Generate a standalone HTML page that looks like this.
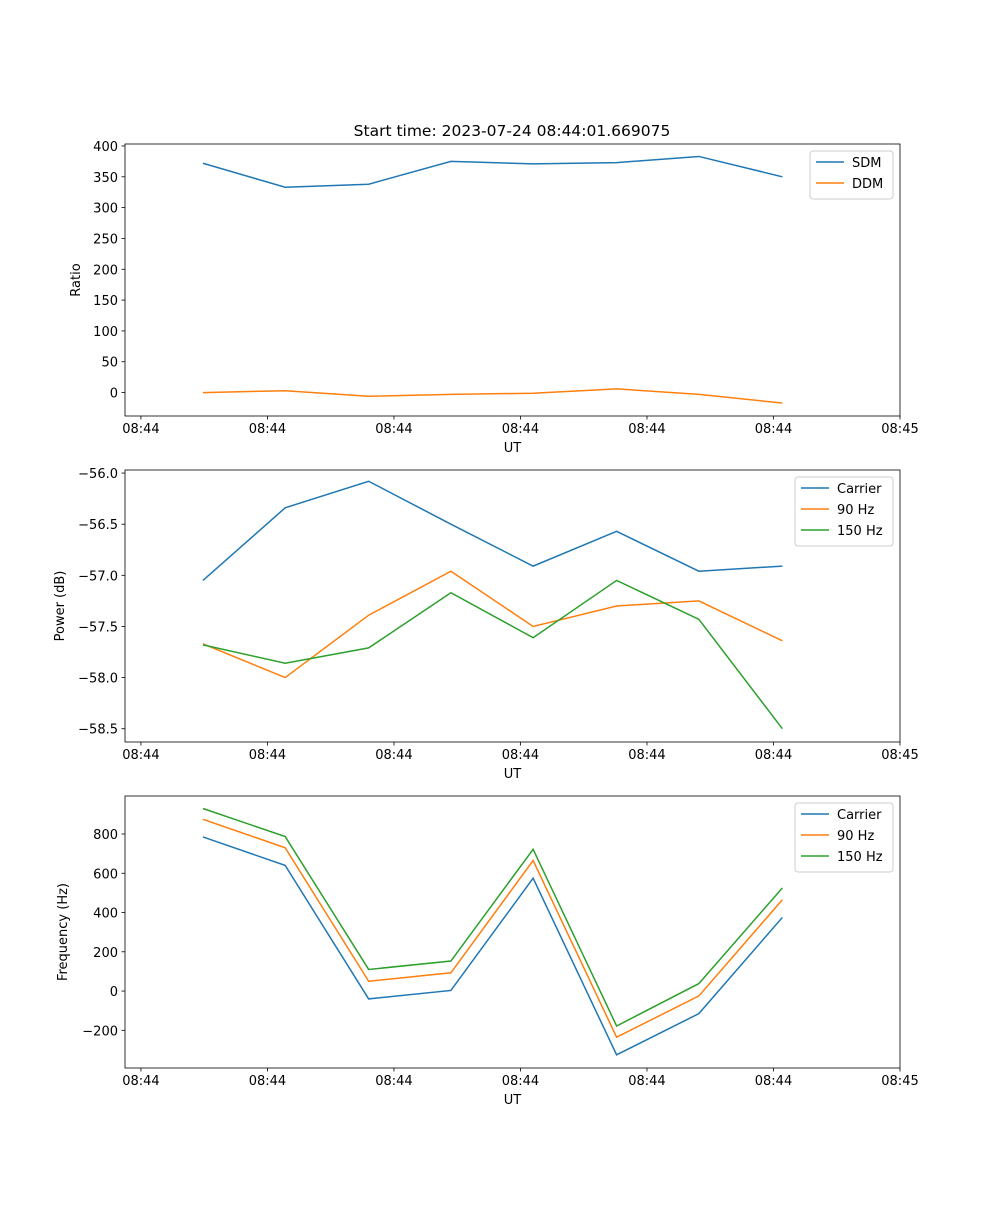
<!DOCTYPE html>
<html><head><meta charset="utf-8"><style>
body{margin:0;background:#fff}
svg text{font-family:"DejaVu Sans","Liberation Sans",sans-serif;font-size:13px;fill:#000}
</style></head><body>
<svg id="fig" width="1000" height="1200" xmlns="http://www.w3.org/2000/svg">
<rect width="1000" height="1200" fill="#fff"/>
<text x="512" y="136" text-anchor="middle" style="font-size:15.5px">Start time: 2023-07-24 08:44:01.669075</text>
</svg>
<script>
const times = [4.9, 11.4, 18.0, 24.5, 31.0, 37.6, 44.1, 50.7];
const xTickVals = [0, 10, 20, 30, 40, 50, 60];
const xTickLabels = ["08:44","08:44","08:44","08:44","08:44","08:44","08:45"];
const sdm = [372, 333, 338, 375, 371, 373, 383, 350];
const ddm = [0, 3, -6, -3, -1, 6, -3, -17];
const powCarrier = [-57.05, -56.34, -56.08, -56.50, -56.91, -56.57, -56.96, -56.91];
const pow90 = [-57.67, -58.00, -57.39, -56.96, -57.50, -57.30, -57.25, -57.64];
const pow150 = [-57.68, -57.86, -57.71, -57.17, -57.61, -57.05, -57.43, -58.50];
const freqCarrier = [785, 640, -40, 3, 575, -325, -115, 375];
const freq90 = [875, 730, 50, 93, 665, -235, -25, 465];
const freq150 = [930, 787, 110, 153, 722, -178, 38, 525];
const ratioTicks = [0,50,100,150,200,250,300,350,400];
const powTicks = [-56.0,-56.5,-57.0,-57.5,-58.0,-58.5];
const freqTicks = [-200,0,200,400,600,800];

const NS="http://www.w3.org/2000/svg";
const svg=document.getElementById('fig');
const L=125,R=900;
const xMin=-1.26,xMax=60;
const xs=v=>L+(v-xMin)/(xMax-xMin)*(R-L);
function mk(tag,attrs,parent){const e=document.createElementNS(NS,tag);for(const k in attrs)e.setAttribute(k,attrs[k]);(parent||svg).appendChild(e);return e;}

function panel(name,top,bot,yMin,yMax,yTicks,fmt,ylabel,ylabelX,series,legend){
  const g=mk('g',{});
  
  
  const ys=v=>bot-(v-yMin)/(yMax-yMin)*(bot-top);
  series.forEach(s=>{
    const p=mk('polyline',{points:times.map((t,i)=>xs(t)+','+ys(s.vals[i])).join(' '),fill:'none',stroke:s.color,'stroke-width':1.5},g);
    
    
  });
  const fr=mk('rect',{x:L,y:top,width:R-L,height:bot-top,fill:'none',stroke:'#000','stroke-width':0.8},g);
  
  
  xTickVals.forEach((v,i)=>{
    const x=xs(v);
    mk('line',{x1:x,x2:x,y1:bot,y2:bot+3.5,stroke:'#000','stroke-width':0.8},g);
    const t=mk('text',{x:x,y:bot+17,'text-anchor':'middle'},g);
    t.textContent=xTickLabels[i];
    
    
  });
  yTicks.forEach(v=>{
    const y=ys(v);
    mk('line',{x1:L-3.5,x2:L,y1:y,y2:y,stroke:'#000','stroke-width':0.8},g);
    const t=mk('text',{x:L-7,y:y+5,'text-anchor':'end'},g);
    t.textContent=fmt(v);
    
    
  });
  const xl=mk('text',{x:(L+R)/2,y:bot+36,'text-anchor':'middle'},g);
  xl.textContent='UT';
  
  
  const yc=(top+bot)/2;
  const yl=mk('text',{x:ylabelX,y:yc,'text-anchor':'middle',transform:'rotate(-90 '+ylabelX+' '+yc+')'},g);
  yl.textContent=ylabel;
  
  
  const lg=mk('g',{},g);
  
  
  const h=series.length*21+6;
  mk('rect',{x:legend.x,y:top+7,width:R-7-legend.x,height:h,rx:3,fill:'#fff','fill-opacity':0.8,stroke:'#ccc'},lg);
  series.forEach((s,i)=>{
    const y=top+18+i*21;
    mk('line',{x1:legend.x+6,x2:legend.x+34,y1:y,y2:y,stroke:s.color,'stroke-width':1.5},lg);
    const t=mk('text',{x:legend.x+42,y:y+5},lg);
    t.textContent=s.label;
    
    
  });
}
const B='#1f77b4',O='#ff7f0e',G='#2ca02c';
panel('ratio',144,416,-38,403.2,ratioTicks,v=>String(v),'Ratio',80,
 [{key:'sdm',vals:sdm,color:B,label:'SDM'},{key:'ddm',vals:ddm,color:O,label:'DDM'}],{x:810});
panel('power',470,742,-58.63,-55.97,powTicks,v=>'\u2212'+Math.abs(v).toFixed(1),'Power (dB)',64,
 [{key:'carrier',vals:powCarrier,color:B,label:'Carrier'},{key:'90hz',vals:pow90,color:O,label:'90 Hz'},{key:'150hz',vals:pow150,color:G,label:'150 Hz'}],{x:795});
panel('frequency',796,1068,-392,993.6,freqTicks,v=>v<0?'\u2212'+Math.abs(v):String(v),'Frequency (Hz)',67,
 [{key:'carrier',vals:freqCarrier,color:B,label:'Carrier'},{key:'90hz',vals:freq90,color:O,label:'90 Hz'},{key:'150hz',vals:freq150,color:G,label:'150 Hz'}],{x:795});
</script>
</body></html>
